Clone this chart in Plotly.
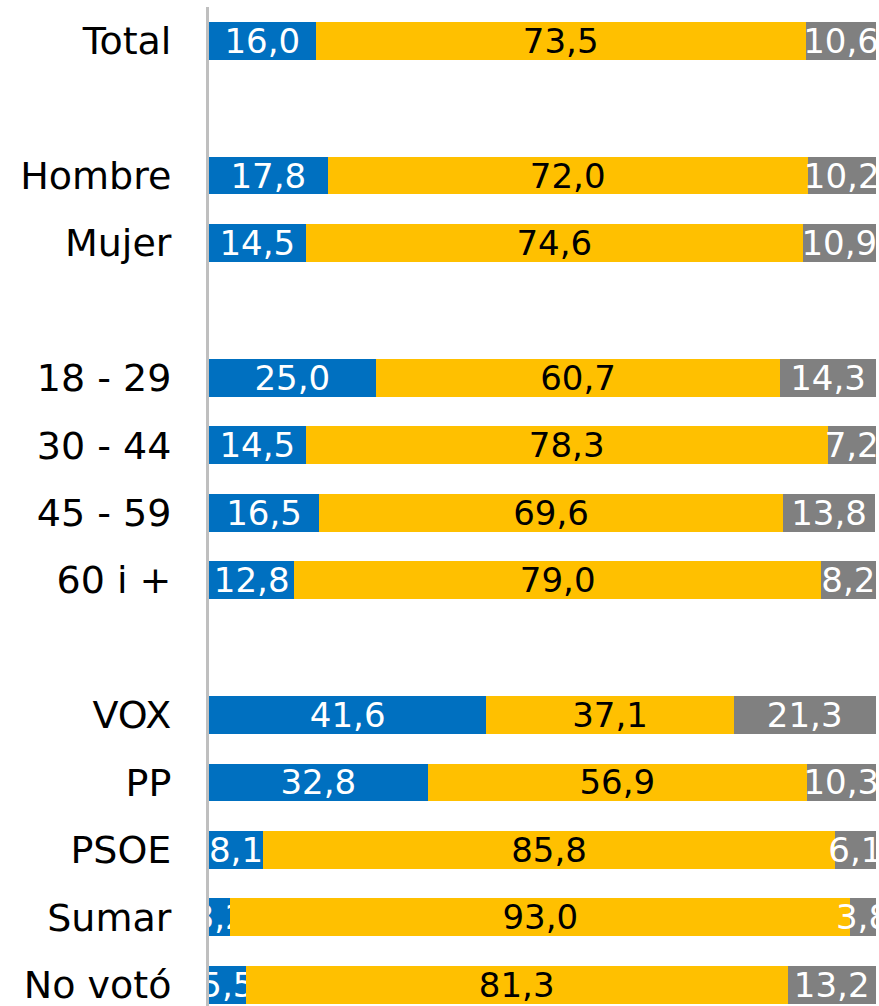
import plotly.graph_objects as go

categories = ["Total", " ", "Hombre", "Mujer", "  ", "18 - 29", "30 - 44", "45 - 59", "60 i +",
              "   ", "VOX", "PP", "PSOE", "Sumar", "No votó"]
serie_a = [16.0, None, 17.8, 14.5, None, 25.0, 14.5, 16.5, 12.8, None, 41.6, 32.8, 8.1, 3.2, 5.5]
serie_b = [73.5, None, 72.0, 74.6, None, 60.7, 78.3, 69.6, 79.0, None, 37.1, 56.9, 85.8, 93.0, 81.3]
serie_c = [10.6, None, 10.2, 10.9, None, 14.3, 7.2, 13.8, 8.2, None, 21.3, 10.3, 6.1, 3.8, 13.2]

colors = ["#0070C0", "#FFC000", "#808080"]
text_colors = ["white", "black", "white"]
FONT = "DejaVu Sans"


def fmt(v):
    return "" if v is None else f"{v:.1f}".replace(".", ",")


fig = go.Figure()
for vals, col, tcol in zip([serie_a, serie_b, serie_c], colors, text_colors):
    fig.add_trace(go.Bar(
        y=categories, x=vals, orientation="h",
        marker=dict(color=col, line=dict(width=0)),
        text=[fmt(v) for v in vals], textposition="inside",
        insidetextanchor="middle", textangle=0, constraintext="none",
        textfont=dict(color=tcol, size=34, family=FONT),
        cliponaxis=True, hoverinfo="skip", showlegend=False,
    ))

fig.update_layout(
    barmode="stack", bargap=0.44,
    width=879, height=1006,
    margin=dict(l=209, r=0, t=7, b=0),
    paper_bgcolor="white", plot_bgcolor="white",
    uniformtext=dict(minsize=34, mode="show"),
    font=dict(family=FONT, color="black"),
)
fig.update_xaxes(range=[0, 100.5], visible=False, showgrid=False, zeroline=False)
fig.update_yaxes(
    type="category", categoryorder="array", categoryarray=categories,
    range=[14.315, -0.5], showgrid=False, zeroline=False,
    showline=True, linecolor="#BFBFBF", linewidth=3,
    ticks="", ticklabelstandoff=27,
    tickfont=dict(size=38, family=FONT, color="black"),
)

fig.write_html(
    "out.html",
    config={"displayModeBar": False},
    post_script="document.body.style.margin='0';document.body.style.overflow='hidden';",
)
